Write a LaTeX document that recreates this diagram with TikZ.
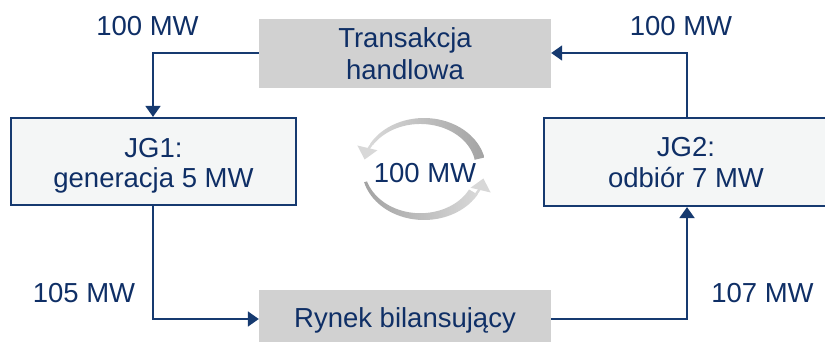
\documentclass[tikz,border=0pt]{standalone}
\usepackage{fontspec}
\setmainfont{Liberation Sans}
\usetikzlibrary{arrows.meta,calc}
\definecolor{navy}{HTML}{163A70}
\definecolor{txt}{HTML}{0F2F66}
\definecolor{boxgray}{HTML}{D1D1D1}
\definecolor{boxfill}{HTML}{F4F6F6}
\definecolor{cyclight}{HTML}{D8D8D8}
\definecolor{cycdark}{HTML}{A3A3A3}
\begin{document}
\begin{tikzpicture}[x=1pt,y=-1pt,
  lbl/.style={text=txt,font=\fontsize{27.5}{33}\selectfont,inner sep=0pt},
  line/.style={lbl,anchor=base},
  graybox/.style={fill=boxgray,draw=none,inner sep=0pt},
  jgbox/.style={fill=boxfill,draw=navy,line width=2.2pt,inner sep=0pt},
  conn/.style={draw=navy,line width=1.9pt,-{Triangle[length=11pt,width=15pt]}}]
\useasboundingbox (0,0) rectangle (825,342);
% boxes
\node[graybox,minimum width=292pt,minimum height=69pt] (trans) at (405,53.5) {};
\node[graybox,minimum width=292pt,minimum height=56pt] (ryn) at (405,318) {};
\node[jgbox,minimum width=285pt,minimum height=87pt] (jg1) at (153.5,161.5) {};
\node[jgbox,minimum width=286pt,minimum height=88pt] (jg2) at (687,162) {};
% box texts
\node[line] (t1) at (405,48) {Transakcja};
\node[line] (t2) at (405,80) {handlowa};
\node[line] (r1) at (405,327) {Rynek bilansujący};
\node[line] (g1) at (153.5,158) {JG1:};
\node[line] (g2) at (153.5,188) {generacja 5 MW};
\node[line] (o1) at (686,157) {JG2:};
\node[line] (o2) at (686,187) {odbiór 7 MW};
% flow labels
\node[lbl] (l1) at (147.5,26) {100 MW};
\node[lbl] (l2) at (681,26) {100 MW};
\node[lbl] (l3) at (84,293) {105 MW};
\node[lbl] (l4) at (762.5,293) {107 MW};
\node[lbl] (l5) at (425,173) {100 MW};
% connectors
\coordinate (c1) at (153,53);
\coordinate (c2) at (153,319);
\coordinate (c3) at (687,319);
\coordinate (c4) at (687,53);
\draw[conn] (trans.west |- c1) -- (c1) -- (jg1.north -| c1);
\draw[conn] (jg1.south -| c2) -- (c2) -- (ryn.west |- c2);
\draw[conn] (ryn.east |- c3) -- (c3) -- (jg2.south -| c3);
\draw[conn] (jg2.north -| c4) -- (c4) -- (trans.east |- c4);
% cycle arrows (tapered bands)
\def\cx{424}\def\cy{169}\def\rx{62}\def\ry{51}
\shade[left color=cyclight,right color=cycdark]
  plot[domain=-13:-150,samples=40] ({\cx+\rx*cos(\x)},{\cy+\ry*sin(\x)})
  -- plot[domain=-150:-13,samples=40] ({\cx+(\rx-3-7*(\x+150)/137)*cos(\x)},{\cy+(\ry-3-7*(\x+150)/137)*sin(\x)})
  -- cycle;
\draw[cyclight,line width=2.5pt,-{Triangle[length=12pt,width=20pt]}]
  ({\cx+(\rx-1.5)*cos(-148)},{\cy+(\ry-1.5)*sin(-148)}) arc[start angle=-148,end angle=-169,x radius=\rx-1.5,y radius=\ry-1.5];
\shade[left color=cycdark,right color=cyclight]
  plot[domain=165:30,samples=40] ({\cx+\rx*cos(\x)},{\cy+\ry*sin(\x)})
  -- plot[domain=30:165,samples=40] ({\cx+(\rx-3-7*(165-\x)/135)*cos(\x)},{\cy+(\ry-3-7*(165-\x)/135)*sin(\x)})
  -- cycle;
\draw[cyclight,line width=2.5pt,-{Triangle[length=12pt,width=20pt]}]
  ({\cx+(\rx-1.5)*cos(32)},{\cy+(\ry-1.5)*sin(32)}) arc[start angle=32,end angle=11,x radius=\rx-1.5,y radius=\ry-1.5];
\end{tikzpicture}
\end{document}
